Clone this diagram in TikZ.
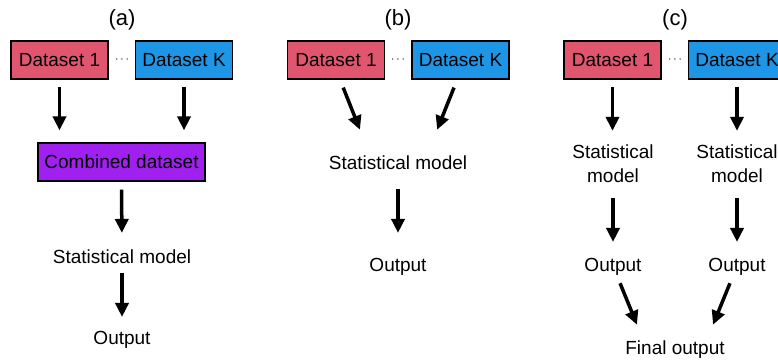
\documentclass[tikz,border=0pt]{standalone}
\usepackage{fontspec}
\setmainfont{Liberation Sans}
\usetikzlibrary{arrows.meta}

\definecolor{dsred}{HTML}{E0566F}
\definecolor{dsblue}{HTML}{1F96E5}
\definecolor{dspurple}{HTML}{A020F0}

\tikzset{
  dset/.style={draw, line width=1.2pt, minimum width=97pt, minimum height=38pt,
    inner sep=0pt, font=\fontsize{19}{24}\selectfont},
  txt/.style={inner sep=0pt, text height=13.7pt, text depth=0pt,
    font=\fontsize{19}{24}\selectfont},
  txtml/.style={inner sep=0pt, align=center, font=\fontsize{19}{24}\selectfont},
  panel/.style={inner sep=0pt, font=\fontsize{22}{26}\selectfont},
  dots/.style={inner sep=0pt, font=\fontsize{12}{14}\selectfont},
  arr/.style={line width=3.5pt, -{Triangle[length=14pt,width=13pt]}}
}

\begin{document}
\begin{tikzpicture}[x=1pt,y=-1pt]
\clip (0,0) rectangle (778,360);
% (a) pooled data
\node[panel] (lbla) at (122,20) {(a)};
\node[dset, fill=dsred] (d1a) at (59.5,60) {Dataset 1};
\node[dset, fill=dsblue] (dKa) at (184,60) {Dataset K};
\node[dots] (dota) at (122,60) {$\cdots$};
\node[dset, fill=dspurple, minimum width=167pt] (comb) at (121.5,162) {Combined dataset};
\node[txt] (stata) at (122,257) {Statistical model};
\node[txt] (outa) at (122,338) {Output};
\draw[arr, shorten <=7pt, shorten >=12pt] (d1a.south) -- (d1a.south |- comb.north);
\draw[arr, shorten <=7pt, shorten >=12pt] (dKa.south) -- (dKa.south |- comb.north);
\draw[arr, shorten <=8pt, shorten >=17pt] (comb.south) -- (stata.north);
\draw[arr, shorten <=9pt, shorten >=14pt] (stata.south) -- (outa.north);
% (b) one model
\node[panel] (lblb) at (398,20) {(b)};
\node[dset, fill=dsred] (d1b) at (336,60) {Dataset 1};
\node[dset, fill=dsblue] (dKb) at (460.5,60) {Dataset K};
\node[dots] (dotb) at (398,60) {$\cdots$};
\node[txt] (statb) at (398,163) {Statistical model};
\node[txt] (outb) at (398,265) {Output};
\draw[arr, shorten <=8.6pt, shorten >=28.2pt] ([xshift=4pt]d1b.south) -- ([xshift=-27.6pt]statb.north);
\draw[arr, shorten <=8.6pt, shorten >=28.2pt] ([xshift=-3.3pt]dKb.south) -- ([xshift=28.6pt]statb.north);
\draw[arr, shorten <=19pt, shorten >=25pt] (statb.south) -- (outb.north);
% (c) separate models
\node[panel] (lblc) at (675,20) {(c)};
\node[dset, fill=dsred] (d1c) at (612.5,60) {Dataset 1};
\node[dset, fill=dsblue] (dKc) at (737,60) {Dataset K};
\node[dots] (dotc) at (675,60) {$\cdots$};
\node[txtml] (statc1) at (613,164) {Statistical\\model};
\node[txtml] (statcK) at (737,164) {Statistical\\model};
\node[txt] (outc1) at (613,265) {Output};
\node[txt] (outcK) at (737,265) {Output};
\node[txt] (finc) at (675,348) {Final output};
\draw[arr, shorten <=7pt, shorten >=14pt] (d1c.south) -- (d1c.south |- statc1.north);
\draw[arr, shorten <=7pt, shorten >=14pt] (dKc.south) -- (dKc.south |- statcK.north);
\draw[arr, shorten <=15pt, shorten >=16pt] (statc1.south) -- (outc1.north);
\draw[arr, shorten <=15pt, shorten >=16pt] (statcK.south) -- (outcK.north);
\draw[arr, shorten <=12.1pt, shorten >=17.5pt] ([xshift=2.5pt]outc1.south) -- ([xshift=-31.4pt]finc.north);
\draw[arr, shorten <=12.1pt, shorten >=17.5pt] ([xshift=-2.5pt]outcK.south) -- ([xshift=31.4pt]finc.north);
\end{tikzpicture}
\end{document}
